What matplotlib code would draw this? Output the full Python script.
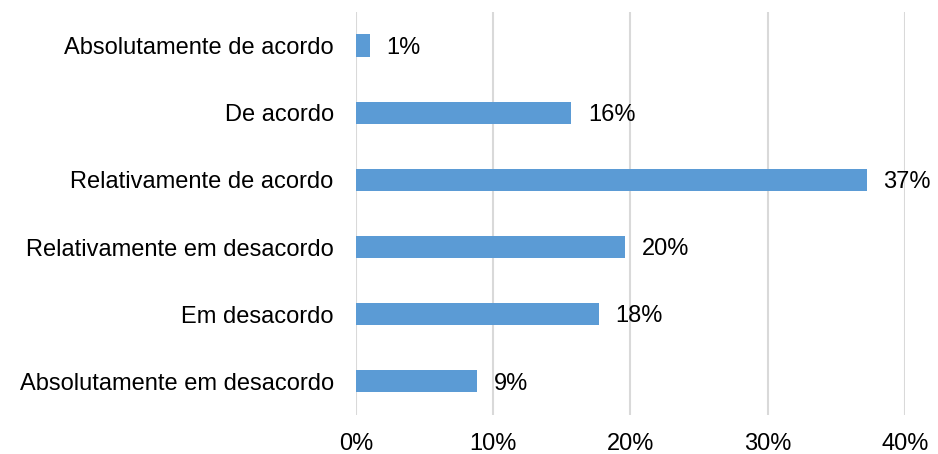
import matplotlib
matplotlib.use("Agg")
import matplotlib.pyplot as plt
from matplotlib.ticker import FuncFormatter

categories = [
    "Absolutamente de acordo",
    "De acordo",
    "Relativamente de acordo",
    "Relativamente em desacordo",
    "Em desacordo",
    "Absolutamente em desacordo",
]
values = [1.0, 15.7, 37.2, 19.6, 17.7, 8.8]
x_ticks = [0, 10, 20, 30, 40]

plt.rcParams["font.family"] = ["Liberation Sans", "DejaVu Sans"]

fig = plt.figure(figsize=(9.38, 4.54), dpi=100)
ax = fig.add_axes([0.3795, 0.0859, 0.9648 - 0.3795, 0.9736 - 0.0859])

ypos = list(range(len(categories)))
ax.barh(ypos, values, height=0.33, color="#5B9BD5", zorder=3)

for y, v in zip(ypos, values):
    ax.annotate(f"{v:.0f}%", xy=(v, y), xytext=(12, -1.5), textcoords="offset points",
                ha="left", va="center", fontsize=17, color="#000000")

ax.set_yticks(ypos)
ax.set_yticklabels(categories)
ax.set_ylim(len(categories) - 0.5, -0.5)
ax.set_xlim(0, 40)
ax.set_xticks(x_ticks)
ax.xaxis.set_major_formatter(FuncFormatter(lambda v, p: f"{v:.0f}%"))

ax.grid(axis="x", color="#d9d9d9", linewidth=1.5, zorder=0)
ax.set_axisbelow(True)
for s in ax.spines.values():
    s.set_visible(False)
ax.tick_params(axis="both", length=0, labelsize=17, colors="#000000")
ax.tick_params(axis="y", pad=16)
ax.tick_params(axis="x", pad=13)

fig.savefig("out.png", dpi=100, facecolor="white")
